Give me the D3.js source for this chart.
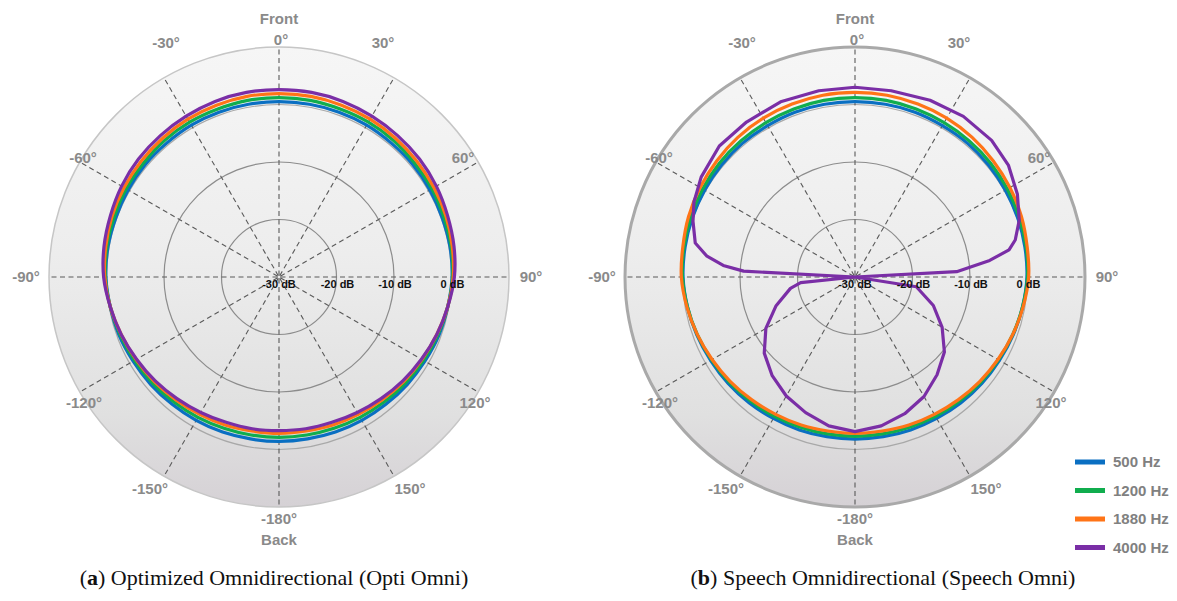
<!DOCTYPE html>
<html>
<head>
<meta charset="utf-8">
<script src="https://cdn.jsdelivr.net/npm/d3@7"></script>
<style>
  body { margin: 0; background: #fff; }
  svg { display: block; font-family: "Liberation Sans", Arial, sans-serif; }
</style>
</head>
<body>
<svg id="chart" width="1177" height="601"></svg>
<script>
// angles in degrees, clockwise from Front (0)
const angles = [0,10,20,30,40,50,60,70,80,90,100,110,120,130,140,150,160,170,180,190,200,210,220,230,240,250,260,270,280,290,300,310,320,330,340,350];

// (a) Opti Omni, dB
const optiBlue   = [0.5,0.5,0.5,0.5,0.4,0.4,0.3,0.2,0.2,0.1,-0.2,-0.4,-0.7,-0.9,-1.1,-1.2,-1.3,-1.4,-1.4,-1.4,-1.3,-1.2,-1.1,-0.9,-0.7,-0.4,-0.2,0.1,0.2,0.2,0.3,0.4,0.4,0.5,0.5,0.5];
const optiGreen  = [1.2,1.2,1.1,1.1,1.0,0.8,0.7,0.5,0.4,0.2,-0.2,-0.6,-1.0,-1.3,-1.6,-1.8,-2.0,-2.1,-2.1,-2.1,-2.0,-1.8,-1.6,-1.3,-1.0,-0.6,-0.2,0.2,0.4,0.5,0.7,0.8,1.0,1.1,1.1,1.2];
const optiOrange = [1.9,1.9,1.8,1.7,1.5,1.3,1.1,0.9,0.6,0.3,-0.2,-0.8,-1.3,-1.7,-2.1,-2.4,-2.6,-2.8,-2.8,-2.8,-2.6,-2.4,-2.1,-1.7,-1.3,-0.8,-0.2,0.3,0.6,0.9,1.1,1.3,1.5,1.7,1.8,1.9];
const optiPurple = [2.6,2.6,2.5,2.3,2.1,1.9,1.6,1.2,0.9,0.5,-0.2,-0.8,-1.4,-1.9,-2.4,-2.8,-3.1,-3.2,-3.3,-3.2,-3.1,-2.8,-2.4,-1.9,-1.4,-0.8,-0.2,0.5,0.9,1.2,1.6,1.9,2.1,2.3,2.5,2.6];

// (b) Speech Omni, dB
const speechBlue   = [0.5,0.5,0.5,0.4,0.4,0.3,0.2,0.1,0.0,-0.1,-0.4,-0.7,-1.0,-1.2,-1.4,-1.6,-1.7,-1.8,-1.8,-1.8,-1.7,-1.6,-1.4,-1.2,-1.0,-0.7,-0.4,-0.1,0.0,0.1,0.2,0.3,0.4,0.4,0.5,0.5];
const speechGreen  = [1.2,1.2,1.1,1.0,0.9,0.8,0.6,0.4,0.2,0.0,-0.4,-0.8,-1.2,-1.5,-1.8,-2.0,-2.2,-2.3,-2.3,-2.3,-2.2,-2.0,-1.8,-1.5,-1.2,-0.8,-0.4,0.0,0.2,0.4,0.6,0.8,0.9,1.0,1.1,1.2];
const speechOrange = [2.1,2.1,2.0,1.9,1.7,1.4,1.1,0.8,0.4,0.2,-0.3,-0.8,-1.3,-1.7,-2.1,-2.4,-2.6,-2.8,-2.8,-2.8,-2.6,-2.4,-2.1,-1.7,-1.3,-0.8,-0.3,0.2,0.4,0.8,1.1,1.4,1.7,1.9,2.0,2.1];
// 4000 Hz has its own measurement angles
const speechPurpleAngles = [-180,-170,-160,-150,-140,-130,-120,-110,-100,-96,-90,-87,-85,-82,-78,-71,-65,-57,-46,-35,-23,-11,0,11,23,34,45,54,63,71,77,80,83,87,90,99,110,120,130,140,150,160,170];
const speechPurple = [-3.1,-3.7,-4.9,-6.1,-7.6,-9.4,-12.1,-15.4,-18.6,-20.5,-30,-10.6,-7.0,-4.0,-1.6,-0.2,0.9,1.9,2.8,2.9,3.1,3.0,3.0,3.0,3.4,3.7,3.6,3.0,1.7,0.2,-1.4,-2.8,-6.4,-12.3,-30,-19.2,-15.5,-12.5,-9.7,-7.8,-6.0,-4.7,-3.7];

const gridDb = [-20, -10, 0];
const dbTicks = [-30, -20, -10, 0];
const spokeAngles = [0,30,60,90,120,150,180,210,240,270,300,330];
const spokeLabels = ["0°","30°","60°","90°","120°","150°","-180°","-150°","-120°","-90°","-60°","-30°"];
const freqs = ["500 Hz", "1200 Hz", "1880 Hz", "4000 Hz"];
const captions = [["a", " Optimized Omnidirectional (Opti Omni)"], ["b", " Speech Omnidirectional (Speech Omni)"]];

const colors = ["#0a6fc2", "#10ad4e", "#ff7417", "#7a2ea6"];

// where each angle label sits, relative to the plot centre (layout only)
var labelOffsets = [[2,-237],[104,-234],[184,-119],[252,0],[196,126],[131,212],[0,242],[-129,212],[-195,126],[-253,0],[-196,-119],[-113,-234]];

var outerR = 230;
var rScale = d3.scaleLinear().domain([-30, 10]).range([0, outerR]).clamp(true);

var svg = d3.select("#chart");

// background gradient of the disk
var defs = svg.append("defs");
var grad = defs.append("linearGradient")
  .attr("id", "diskGrad")
  .attr("x1", 0).attr("y1", 0).attr("x2", 0).attr("y2", 1);
grad.append("stop").attr("offset", "0%").attr("stop-color", "#f6f6f6");
grad.append("stop").attr("offset", "45%").attr("stop-color", "#ededed");
grad.append("stop").attr("offset", "80%").attr("stop-color", "#e0e0e0");
grad.append("stop").attr("offset", "100%").attr("stop-color", "#d5d1d5");

function toRad(a) { return a * Math.PI / 180; }

function drawPolar(cx, cy, series, border) {
  var g = svg.append("g").attr("transform", translation(cx, cy));

  g.append("circle")
    .attr("r", outerR)
    .attr("fill", "url(#diskGrad)")
    .attr("stroke", border.color)
    .attr("stroke-width", border.width);

  g.selectAll(".grid")
    .data(gridDb)
    .enter().append("circle")
      .attr("class", "grid")
      .attr("r", function(d) { return rScale(d); })
      .attr("fill", "none")
      .attr("stroke", function(d) { return d === 0 ? "#a8a8a8" : "#8c8c8c"; })
      .attr("stroke-width", 1.2);

  // dashed spokes; they start a hair off-centre so the hub stays a light star
  g.selectAll(".spoke")
    .data(spokeAngles)
    .enter().append("line")
      .attr("class", "spoke")
      .attr("x1", function(d) { return 1.5 * Math.sin(toRad(d)); })
      .attr("y1", function(d) { return -1.5 * Math.cos(toRad(d)); })
      .attr("x2", function(d) { return outerR * Math.sin(toRad(d)); })
      .attr("y2", function(d) { return -outerR * Math.cos(toRad(d)); })
      .attr("stroke", "#5a5a5a")
      .attr("stroke-width", 1.1)
      .attr("stroke-dasharray", "5,3.5");

  series.forEach(function(s, i) {
    // the near-circular responses are drawn smooth, the 4000 Hz speech lobe as measured polygon
    var line = d3.lineRadial()
      .angle(function(d) { return toRad(d.a); })
      .radius(function(d) { return rScale(d.v); })
      .curve(s.smooth ? d3.curveCatmullRomClosed : d3.curveLinearClosed);
    var pts = s.values.map(function(v, j) { return {a: s.angles[j], v: v}; });
    g.append("path")
      .attr("d", line(pts))
      .attr("fill", "none")
      .attr("stroke", colors[i])
      .attr("stroke-width", 3.2)
      .attr("stroke-linejoin", "round");
  });

  // dB labels just under the 90° axis
  g.selectAll(".db")
    .data(dbTicks)
    .enter().append("text")
      .attr("class", "db")
      .attr("x", function(d) { return rScale(d) + (d === -30 ? 0 : 1); })
      .attr("y", 11)
      .attr("text-anchor", "middle")
      .style("font-size", "11px")
      .style("font-weight", "bold")
      .style("fill", "#111")
      .text(function(d) { return d + " dB"; });

  // angle labels
  g.selectAll(".ang")
    .data(spokeAngles)
    .enter().append("text")
      .attr("class", "ang")
      .attr("x", function(d, i) { return labelOffsets[i][0]; })
      .attr("y", function(d, i) { return labelOffsets[i][1] + 5; })
      .attr("text-anchor", "middle")
      .style("font-size", "15px")
      .style("font-weight", "bold")
      .style("fill", "#8a8a8a")
      .text(function(d, i) { return spokeLabels[i]; });

  g.append("text")
    .attr("x", 0).attr("y", -253)
    .attr("text-anchor", "middle")
    .style("font-size", "15px").style("font-weight", "bold").style("fill", "#8a8a8a")
    .text("Front");
  g.append("text")
    .attr("x", 0).attr("y", 268)
    .attr("text-anchor", "middle")
    .style("font-size", "15px").style("font-weight", "bold").style("fill", "#8a8a8a")
    .text("Back");
}

drawPolar(279, 277, [
  {angles: angles, values: optiBlue, smooth: true},
  {angles: angles, values: optiGreen, smooth: true},
  {angles: angles, values: optiOrange, smooth: true},
  {angles: angles, values: optiPurple, smooth: true}
], {color: "#c6c6c6", width: 1.5});

drawPolar(855, 277, [
  {angles: angles, values: speechBlue, smooth: true},
  {angles: angles, values: speechGreen, smooth: true},
  {angles: angles, values: speechOrange, smooth: true},
  {angles: speechPurpleAngles, values: speechPurple, smooth: false}
], {color: "#a9a9a9", width: 3});

// legend
var legend = svg.append("g").attr("transform", translation(1075, 462));
legend.selectAll("rect")
  .data(freqs)
  .enter().append("rect")
    .attr("x", 0)
    .attr("y", function(d, i) { return i * 28.5 - 2.5; })
    .attr("width", 30).attr("height", 5)
    .attr("fill", function(d, i) { return colors[i]; });
legend.selectAll("text")
  .data(freqs)
  .enter().append("text")
    .attr("x", 38)
    .attr("y", function(d, i) { return i * 28.5 + 5; })
    .style("font-size", "15px").style("font-weight", "bold").style("fill", "#808080")
    .text(function(d) { return d; });

// captions
var capX = [274, 883];
captions.forEach(function(c, i) {
  var t = svg.append("text")
    .attr("x", capX[i]).attr("y", 585)
    .attr("text-anchor", "middle")
    .style("font-family", "'Liberation Serif', 'DejaVu Serif', serif")
    .style("font-size", "22px")
    .style("fill", "#111");
  t.append("tspan").text("(");
  t.append("tspan").style("font-weight", "bold").text(c[0]);
  t.append("tspan").text(")" + c[1]);
});

function translation(x, y) {
  return "translate(" + x + "," + y + ")";
}
</script>
</body>
</html>
